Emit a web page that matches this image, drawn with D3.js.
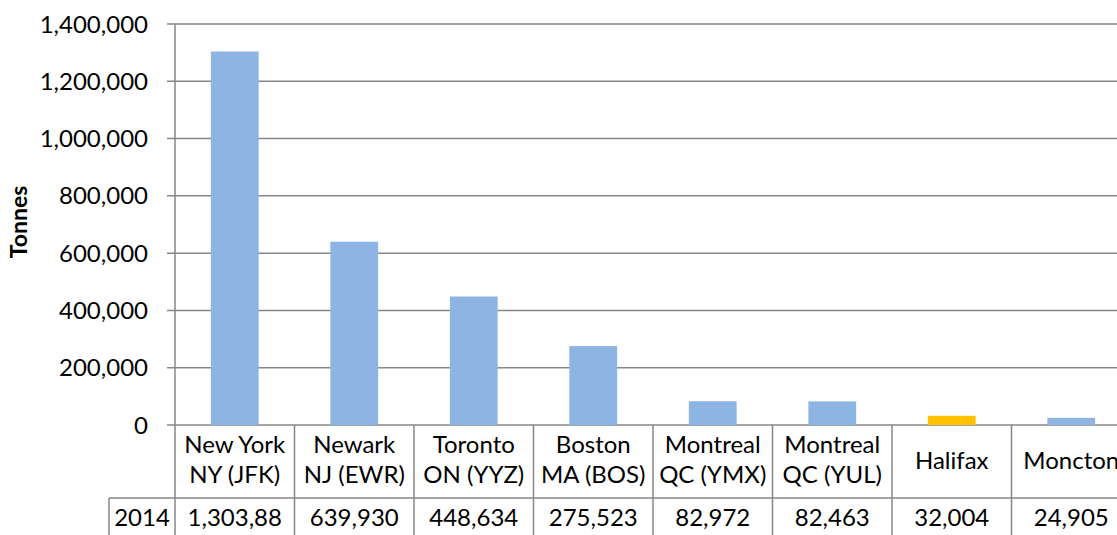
<!DOCTYPE html>
<meta charset="UTF-8">
<style>
    body { margin: 0; background: #fff; }
    text { font-family: Lato, "Open Sans", sans-serif; fill: #000; }
    .grid line { stroke: #878787; stroke-width: 1.5px; }
    .cell { stroke: #878787; stroke-width: 1.5px; }
</style>
<body>
<script src="https://cdn.jsdelivr.net/npm/d3@7"></script>
<script>

// airports (two label lines each) and 2014 tonnage
var line1 = ["New York", "Newark", "Toronto", "Boston", "Montreal", "Montreal", "Halifax", "Moncton"];
var line2 = ["NY (JFK)", "NJ (EWR)", "ON (YYZ)", "MA (BOS)", "QC (YMX)", "QC (YUL)", "", ""];
var tonnes2014 = [1303880, 639930, 448634, 275523, 82972, 82463, 32004, 24905];
var highlight = [false, false, false, false, false, false, true, false];
var yTicks = [0, 200000, 400000, 600000, 800000, 1000000, 1200000, 1400000];
var seriesName = "2014";

var W = 1117, H = 535;
var plotLeft = 175, plotTop = 24, base = 425;
var catW = 119.5;
var fs = "24px";

var svg = d3.select("body").append("svg")
    .attr("width", W)
    .attr("height", H);

var x = d3.scaleBand()
    .domain(d3.range(line1.length))
    .range([plotLeft, plotLeft + catW * line1.length])
    .paddingInner(0.6)
    .paddingOuter(0.3);

var y = d3.scaleLinear()
    .domain([0, 1400000])
    .range([base, plotTop]);

// gridlines + ticks
var grid = svg.append("g").attr("class", "grid");
grid.selectAll("line")
    .data(yTicks)
  .enter().append("line")
    .attr("x1", plotLeft - 8)
    .attr("x2", W)
    .attr("y1", function(d) { return y(d); })
    .attr("y2", function(d) { return y(d); });

svg.append("g").selectAll("text")
    .data(yTicks)
  .enter().append("text")
    .attr("x", 148)
    .attr("y", function(d) { return y(d); })
    .attr("dy", "0.36em")
    .attr("text-anchor", "end")
    .style("font-size", "24px")
    .text(d3.format(","));

// axis title
svg.append("text")
    .attr("transform", "translate(27,222) rotate(-90)")
    .attr("text-anchor", "middle")
    .style("font-size", "23px")
    .style("font-weight", "bold")
    .text("Tonnes");

// bars
svg.append("g").selectAll("rect")
    .data(tonnes2014)
  .enter().append("rect")
    .attr("x", function(d, i) { return x(i); })
    .attr("width", x.bandwidth())
    .attr("y", function(d) { return y(d); })
    .attr("height", function(d) { return base - y(d); })
    .style("fill", function(d, i) { return highlight[i] ? "#FFC000" : "#8EB4E3"; });

// y axis line (runs through the data table)
svg.append("line").attr("class", "cell")
    .attr("x1", plotLeft).attr("x2", plotLeft)
    .attr("y1", plotTop).attr("y2", H);

// data table
var rowTop = 498;
var tbl = svg.append("g");

tbl.append("line").attr("class", "cell")
    .attr("x1", 109).attr("x2", W)
    .attr("y1", rowTop).attr("y2", rowTop);
tbl.append("line").attr("class", "cell")
    .attr("x1", 109).attr("x2", 109)
    .attr("y1", rowTop).attr("y2", H);

tbl.selectAll("line.sep")
    .data(d3.range(1, line1.length + 1))
  .enter().append("line")
    .attr("class", "cell sep")
    .attr("x1", function(i) { return plotLeft + catW * i; })
    .attr("x2", function(i) { return plotLeft + catW * i; })
    .attr("y1", base)
    .attr("y2", H);

var cx = function(i) { return plotLeft + catW * (i + 0.5); };

tbl.selectAll("text.l1")
    .data(line1)
  .enter().append("text")
    .attr("x", function(d, i) { return cx(i); })
    .attr("y", function(d, i) { return line2[i] ? 453 : 469; })
    .attr("text-anchor", "middle")
    .style("font-size", fs)
    .text(function(d) { return d; });

tbl.selectAll("text.l2")
    .data(line2)
  .enter().append("text")
    .attr("x", function(d, i) { return cx(i); })
    .attr("y", 483)
    .attr("text-anchor", "middle")
    .style("font-size", fs)
    .text(function(d) { return d; });

tbl.append("text")
    .attr("x", 142)
    .attr("y", 526)
    .attr("text-anchor", "middle")
    .style("font-size", fs)
    .text(seriesName);

var fmt = d3.format(",");
tbl.selectAll("text.val")
    .data(tonnes2014)
  .enter().append("text")
    .attr("x", function(d, i) { return cx(i); })
    .attr("y", 526)
    .attr("text-anchor", "middle")
    .style("font-size", fs)
    .text(function(d) { return fmt(d); })
    .each(function() {
      // cut the text like a spreadsheet cell does when it does not fit
      var t = d3.select(this), s = t.text();
      while (this.getComputedTextLength() > catW - 16 && s.length > 1) {
        s = s.slice(0, -1);
        t.text(s);
      }
    });

</script>
</body>
